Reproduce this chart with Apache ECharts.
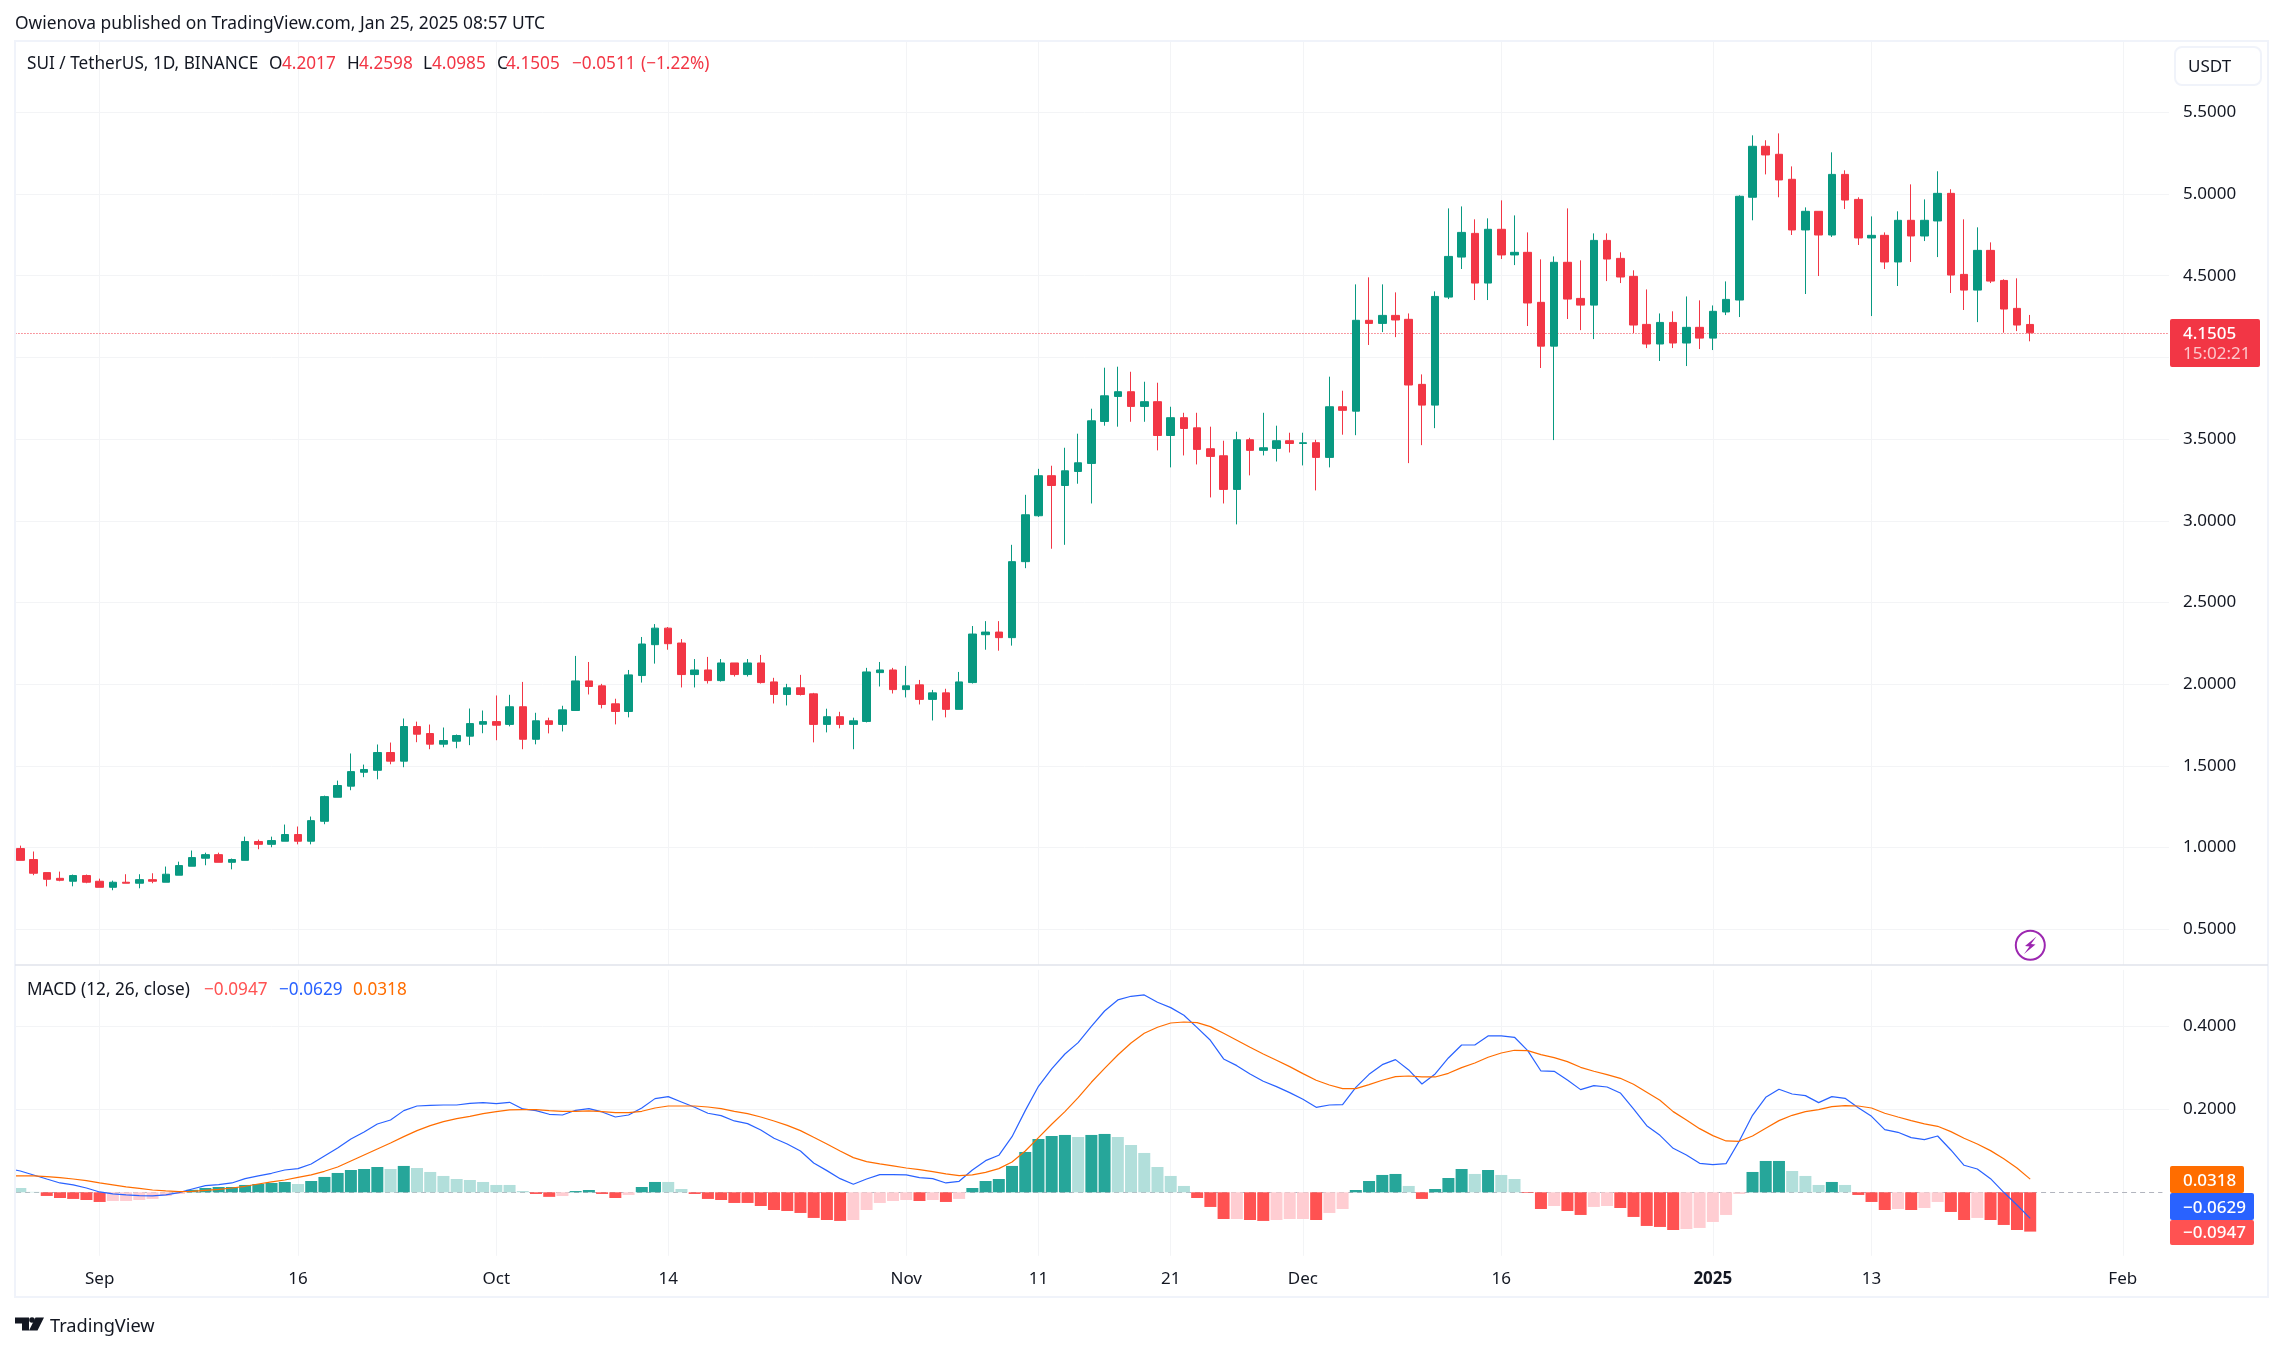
<!DOCTYPE html>
<html><head><meta charset="utf-8">
<style>html,body{margin:0;padding:0;background:#fff}#c{width:2283px;height:1351px}</style>
<script src="https://cdn.jsdelivr.net/npm/echarts@6/dist/echarts.min.js"></script>
</head><body><div id="c"></div>
<script>
const opens=[null,.994,.927,.847,.812,.794,.829,.794,.757,.788,.782,
.804,.788,.831,.886,.935,.957,.910,.922,1.037,1.020,
1.039,1.080,1.039,1.161,1.308,1.376,1.461,1.473,1.582,1.529,
1.741,1.698,1.633,1.651,1.682,1.755,1.771,1.754,1.862,1.663,
1.776,1.754,1.839,2.020,1.990,1.880,1.833,2.053,2.242,2.343,
2.252,2.059,2.087,2.022,2.130,2.059,2.130,2.014,1.937,1.978,
1.941,1.754,1.801,1.754,1.772,2.071,2.087,1.967,1.996,1.907,
1.947,1.846,2.010,2.303,2.319,2.285,2.75,3.031,3.276,3.216,
3.302,3.351,3.608,3.761,3.790,3.700,3.729,3.522,3.631,3.569,
3.441,3.398,3.192,3.496,3.431,3.443,3.490,3.473,3.478,3.388,
3.698,3.671,4.227,4.208,4.257,4.233,3.835,3.708,4.369,4.614,
4.759,4.455,4.784,4.627,4.643,4.337,4.069,4.582,4.361,4.320,
4.716,4.606,4.496,4.202,4.082,4.214,4.088,4.184,4.118,4.278,
4.351,4.980,5.292,5.243,5.090,4.780,4.894,4.749,5.120,4.967,
4.731,4.747,4.584,4.839,4.743,4.835,5.004,4.508,4.412,4.655,
4.471,4.300,4.2017];
const closes=[null,.922,.843,.806,.800,.829,.788,.757,.788,.782,.804,
.794,.837,.890,.939,.957,.910,.927,1.037,1.020,1.043,
1.080,1.039,1.165,1.312,1.380,1.465,1.478,1.582,1.529,1.741,
1.694,1.633,1.655,1.686,1.759,1.771,1.749,1.862,1.663,1.776,
1.754,1.843,2.020,1.986,1.876,1.833,2.057,2.246,2.343,2.248,
2.059,2.087,2.022,2.130,2.059,2.130,2.010,1.937,1.978,1.937,
1.754,1.801,1.754,1.776,2.075,2.087,1.967,1.990,1.907,1.947,
1.846,2.014,2.307,2.319,2.285,2.75,3.037,3.276,3.216,3.306,
3.355,3.612,3.765,3.790,3.700,3.729,3.522,3.631,3.565,3.437,
3.394,3.192,3.496,3.431,3.447,3.490,3.473,3.478,3.388,3.698,
3.676,4.227,4.208,4.257,4.229,3.831,3.708,4.373,4.618,4.765,
4.455,4.784,4.627,4.643,4.333,4.069,4.582,4.357,4.320,4.716,
4.602,4.492,4.198,4.082,4.214,4.088,4.184,4.118,4.282,4.355,
4.986,5.292,5.239,5.086,4.780,4.894,4.749,5.120,4.963,4.731,
4.747,4.584,4.839,4.743,4.839,5.004,4.504,4.412,4.655,4.467,
4.296,4.198,4.1505];
const lows=[null,.922,.831,.763,.794,.763,.782,.757,.739,.782,.751,
.782,.788,.831,.886,.892,.910,.867,.922,.990,1.002,
1.039,1.020,1.020,1.143,1.308,1.351,1.431,1.418,1.510,1.492,
1.645,1.602,1.614,1.608,1.627,1.700,1.657,1.742,1.602,1.632,
1.699,1.711,1.839,1.937,1.852,1.754,1.797,2.010,2.126,2.211,
1.980,1.980,2.004,2.016,2.047,2.047,2.004,1.882,1.870,1.931,
1.644,1.705,1.730,1.602,1.766,1.986,1.943,1.919,1.876,1.778,
1.797,1.846,2.004,2.211,2.205,2.236,2.71,3.024,2.829,2.853,
3.227,3.106,3.582,3.576,3.606,3.606,3.431,3.327,3.400,3.345,
3.143,3.106,2.978,3.278,3.400,3.363,3.418,3.339,3.186,3.327,
3.527,3.524,4.076,4.155,4.124,3.353,3.463,3.567,4.357,4.541,
4.351,4.351,4.602,4.565,4.192,3.935,3.494,4.235,4.167,4.112,
4.467,4.455,4.149,4.057,3.978,4.057,3.947,4.051,4.045,4.259,
4.247,4.839,5.120,4.980,4.749,4.388,4.498,4.737,4.908,4.688,
4.253,4.541,4.437,4.584,4.712,4.614,4.394,4.290,4.216,4.455,
4.151,4.161,4.0985];
const highs=[null,1.012,.976,.847,.853,.835,.835,.810,.798,.837,.837,
.843,.884,.914,.982,.969,.969,.933,1.067,1.049,1.067,
1.141,1.129,1.190,1.318,1.410,1.576,1.508,1.631,1.643,1.790,
1.771,1.753,1.735,1.692,1.851,1.839,1.931,1.935,2.014,1.825,
1.795,1.868,2.173,2.136,2.002,1.911,2.087,2.289,2.368,2.350,
2.276,2.154,2.167,2.154,2.130,2.154,2.179,2.039,2.002,2.057,
1.947,1.850,1.831,1.795,2.100,2.136,2.100,2.112,2.026,1.965,
1.972,2.075,2.356,2.386,2.386,2.853,3.159,3.318,3.337,3.447,
3.533,3.686,3.937,3.943,3.912,3.851,3.845,3.698,3.661,3.661,
3.576,3.490,3.545,3.508,3.661,3.582,3.539,3.539,3.496,3.882,
3.796,4.447,4.490,4.447,4.398,4.269,3.896,4.404,4.912,4.924,
4.845,4.851,4.961,4.869,4.765,4.600,4.618,4.912,4.594,4.759,
4.759,4.643,4.533,4.416,4.269,4.282,4.373,4.349,4.318,4.465,
4.992,5.359,5.329,5.371,5.169,4.918,4.894,5.255,5.145,4.980,
4.863,4.765,4.894,5.059,4.967,5.139,5.029,4.845,4.796,4.704,
4.478,4.484,4.2598];
const macdLine=[.0575,.0514,.0418,.032,.0225,.0177,.0104,.0008,-.004,-.0064,-.008,
-.0088,-.0064,-.0008,.008,.016,.0185,.0225,.033,.0394,.0458,
.0538,.057,.0683,.0875,.1068,.1285,.1454,.1647,.1743,.1968,
.208,.2096,.2104,.2104,.2145,.2161,.2137,.2169,.2008,.1968,
.188,.1863,.1976,.2016,.1936,.1815,.1863,.2032,.2257,.2305,
.2177,.2048,.1904,.1847,.1719,.1655,.1502,.1301,.1165,.0996,
.0707,.0522,.0329,.0193,.0321,.0426,.0426,.0418,.0353,.0329,
.0225,.0265,.0538,.0763,.0892,.1341,.1968,.2554,.2972,.3333,
.3606,.4,.4369,.4635,.4723,.4755,.4578,.445,.4265,.3968,
.3663,.3213,.3052,.2851,.2675,.2546,.2402,.2241,.2048,.2104,
.2112,.253,.2843,.3076,.3197,.2948,.261,.2851,.3237,.355,
.355,.3767,.3767,.3735,.3414,.2924,.2916,.2707,.2474,.257,
.2538,.2394,.2008,.1606,.1373,.106,.09,.0699,.0667,.0691,
.1237,.1855,.2289,.2482,.2369,.2329,.2161,.2305,.2265,.204,
.1831,.151,.1446,.1317,.1269,.1357,.102,.0651,.0562,.0329,
0,-.0305,-.0629];
const signalLine=[.0394,.0394,.0394,.0378,.0353,.0321,.0281,.0225,.0177,.0129,.0096,
.0056,.0032,.0016,.0024,.0048,.0072,.0104,.0145,.02,.0249,
.0297,.0361,.0418,.0506,.061,.0755,.09,.1044,.1189,.1341,
.1486,.1606,.1703,.1775,.1831,.1896,.1944,.1984,.1992,.1992,
.1968,.1952,.1952,.196,.1944,.192,.192,.1952,.2032,.208,
.208,.208,.2056,.2016,.1952,.1896,.1815,.1719,.1614,.1486,
.1325,.1165,.0996,.0835,.0739,.0683,.0635,.0586,.0546,.0498,
.0442,.0402,.0418,.0482,.057,.0731,.0996,.1317,.1639,.1944,
.2281,.2651,.2988,.3309,.3598,.3831,.3976,.408,.4104,.4088,
.3992,.3831,.3663,.3494,.3333,.3181,.3028,.2859,.2699,.2586,
.2498,.2498,.2594,.2699,.2787,.2803,.2779,.2779,.2867,.3004,
.3116,.3253,.3357,.3422,.3414,.3317,.3245,.3149,.3012,.2916,
.2835,.2747,.2602,.241,.2217,.1944,.1743,.1534,.1365,.1237,
.1229,.1357,.1542,.1727,.1855,.1944,.1992,.2064,.2088,.208,
.2032,.1904,.1815,.1727,.1647,.159,.1462,.1301,.1165,.1004,
.0811,.0586,.0318];
const histValues=[null,.0104,.001,-.0088,-.0137,-.016,-.0185,-.0233,-.021,-.021,-.0185,
-.016,-.009,-.004,.006,.0104,.0128,.0128,.0177,.02,.0225,
.0249,.02,.0273,.037,.0466,.0538,.0562,.061,.0562,.0635,
.0586,.049,.0394,.032,.0297,.0249,.0177,.0177,.003,-.004,
-.011,-.009,.003,.0056,-.004,-.0137,-.0064,.0128,.0249,.0249,
.008,-.004,-.016,-.0185,-.0257,-.0257,-.033,-.0426,-.045,-.0498,
-.0618,-.0667,-.069,-.0667,-.0426,-.0257,-.0209,-.0185,-.0209,-.0185,
-.0233,-.016,.0104,.0273,.0321,.0635,.0972,.1285,.1357,.1382,
.1333,.1382,.1406,.1333,.114,.0948,.061,.0394,.0153,-.0137,
-.0353,-.0643,-.0643,-.0667,-.069,-.0667,-.0643,-.0643,-.0667,-.0498,
-.0402,.0056,.0273,.0418,.0442,.0153,-.016,.008,.0345,.0562,
.0442,.0538,.0418,.0321,-.0016,-.0402,-.033,-.045,-.0546,-.0353,
-.033,-.0378,-.0594,-.0811,-.0835,-.0908,-.0884,-.0859,-.0715,-.0546,
-.004,.049,.0755,.0755,.0514,.0394,.0177,.0249,.0177,-.0064,
-.0233,-.0426,-.0402,-.0426,-.0378,-.0233,-.0474,-.0667,-.0618,-.0667,
-.0787,-.0908,-.0947];
// dates (Aug 26 = 0) of the bars TradingView paints in the pale shade
const histPale=[0,1,7,8,9,10,11,12,21,28,30,31,32,33,34,35,36,37,38,41,46,49,50,
63,64,65,66,67,69,71,80,83,84,85,86,87,88,92,95,96,97,99,100,105,110,112,113,116,119,120,
126,127,128,129,130,134,135,136,138,142,144,145,148];
const tickLabels={'2024-09-01':'Sep','2024-09-16':'16','2024-10-01':'Oct','2024-10-14':'14','2024-11-01':'Nov','2024-11-11':'11','2024-11-21':'21','2024-12-01':'Dec','2024-12-16':'16','2025-01-01':'2025','2025-01-13':'13','2025-02-01':'Feb'};
const lastPrice=4.1505;

// Aug 25 sits behind the left frame so the lines run in from off-chart, as in the reference
const categories=[];
for(let d=Date.UTC(2024,7,25),i=0;i<164;i++,d+=864e5)categories.push(new Date(d).toISOString().slice(0,10));
const tickDates=Object.keys(tickLabels);
const FONT='"Noto Sans"',INK='#131722',GRID='#f3f4f6',RED='#f23645',GREEN='#089981';
const candles=opens.map((o,i)=>o===null?'-':[o,closes[i],lows[i],highs[i]]);
const bars=histValues.map((v,i)=>{
  if(v===null)return null;
  const pale=histPale.includes(i-1);
  return {value:v,itemStyle:{color:v>=0?(pale?'#b2dfdb':'#26a69a'):(pale?'#ffcdd2':'#ff5252')}};
});
const gL=0.47,gW=2168.57;
function txt(text,x,y,fill,size,extra){return {type:'text',z:100,silent:true,style:Object.assign({text,x,y,fill,fontSize:size||16,fontFamily:FONT,verticalAlign:'middle',align:'left'},extra||{})};}
function box(x,y,w,h,fill,r){return {type:'rect',z:90,silent:true,shape:{x,y,width:w,height:h,r:r||0},style:{fill}};}
const LG=17.2, TAG=17;
const graphic=[
 {type:'rect',z:79,silent:true,shape:{x:0,y:0,width:14.5,height:1351},style:{fill:'#fff'}},
 {type:'rect',z:80,silent:true,shape:{x:15,y:41,width:2253,height:1256},style:{fill:'none',stroke:'#f0f3fa',lineWidth:2}},
 {type:'line',z:80,silent:true,shape:{x1:15,y1:965,x2:2268,y2:965},style:{stroke:'#e0e3eb',lineWidth:1.5}},
 txt('Owienova published on TradingView.com, Jan 25, 2025 08:57 UTC',15,24.5,INK,17.4),
 txt('SUI / TetherUS, 1D, BINANCE',27,64.5,INK,LG),
 txt('O',269,64.5,INK,LG),txt('4.2017',282,64.5,RED,LG),
 txt('H',347,64.5,INK,LG),txt('4.2598',359,64.5,RED,LG),
 txt('L',423,64.5,INK,LG),txt('4.0985',432,64.5,RED,LG),
 txt('C',497,64.5,INK,LG),txt('4.1505',506,64.5,RED,LG),
 txt('−0.0511',572,64.5,RED,LG),txt('(−1.22%)',641,64.5,RED,LG),
 txt('MACD (12, 26, close)',27,990.5,INK,LG),
 txt('−0.0947',204,990.5,'#ff5252',LG),txt('−0.0629',279,990.5,'#2962ff',LG),txt('0.0318',353,990.5,'#ff6d00',LG),
 {type:'rect',z:90,silent:true,shape:{x:2175,y:47,width:86,height:38,r:7},style:{fill:'#fff',stroke:'#f0f3fa',lineWidth:2}},
 txt('USDT',2188,67,INK,17),
 box(2170,319,90,48,RED,2),
 txt('4.1505',2183,334,'#fff',TAG,{fontWeight:500}),
 txt('15:02:21',2183,354,'rgba(255,255,255,.72)',TAG),
 box(2170,1166,74,27,'#ff6d00',2),txt('0.0318',2183,1181,'#fff',TAG,{fontWeight:500}),
 box(2170,1193,84,27,'#2962ff',2),txt('−0.0629',2183,1208,'#fff',TAG,{fontWeight:500}),
 box(2170,1220,84,25,'#ff5252',2),txt('−0.0947',2183,1233,'#fff',TAG,{fontWeight:500}),
 {type:'circle',z:90,silent:true,shape:{cx:2030.3,cy:945.3,r:14.5},style:{fill:'#fff',stroke:'#9c27b0',lineWidth:2}},
 {type:'polygon',z:91,silent:true,shape:{points:[[2036.5,936.5],[2025,946],[2029.5,946.5],[2024,954],[2035.5,944.5],[2031,944]]},style:{fill:'#9c27b0'}},
 {type:'polygon',z:91,silent:true,shape:{points:[[15,1317.5],[29,1317.5],[29,1330.5],[22,1330.5],[22,1323.5],[15,1323.5]]},style:{fill:INK}},
 {type:'circle',z:91,silent:true,shape:{cx:32,cy:1320,r:2.8},style:{fill:INK}},
 {type:'polygon',z:91,silent:true,shape:{points:[[35.5,1317.5],[44,1317.5],[37.5,1330.5],[29,1330.5]]},style:{fill:INK}},
 txt('TradingView',50,1326.5,INK,18.2)
];
const axisText={margin:14,color:INK,fontSize:17,fontFamily:FONT,padding:[5,0,0,0],showMinLabel:false,showMaxLabel:false};
const option={
 animation:false,backgroundColor:'#fff',graphic,
 grid:[{left:gL,width:gW,top:30.6,height:980.4},{left:gL,width:gW,top:943.3,height:332}],
 xAxis:[
  {type:'category',gridIndex:0,data:categories,show:false},
  {type:'category',gridIndex:1,data:categories,axisLine:{show:false},axisTick:{show:false},splitLine:{show:false},
   axisLabel:{interval:(i,v)=>!!tickLabels[v],verticalAlign:'middle',margin:3.5,color:INK,fontSize:17,fontFamily:FONT,
    formatter:v=>v==='2025-01-01'?'{b|2025}':(tickLabels[v]||''),rich:{b:{fontWeight:700,fontSize:17,fontFamily:FONT,color:INK}}}}
 ],
 yAxis:[
  {type:'value',gridIndex:0,position:'right',min:0,max:6,interval:.5,axisLine:{show:false},axisTick:{show:false},
   splitLine:{show:true,showMinLine:false,showMaxLine:false,lineStyle:{color:GRID,width:1}},
   axisLabel:Object.assign({},axisText,{formatter:v=>v.toFixed(4)})},
  {type:'value',gridIndex:1,position:'right',min:-.2,max:.6,interval:.2,axisLine:{show:false},axisTick:{show:false},
   splitLine:{show:true,showMinLine:false,showMaxLine:false,lineStyle:{color:['transparent',GRID,GRID]}},
   axisLabel:Object.assign({},axisText,{formatter:v=>Math.abs(v)<1e-9?'':v.toFixed(4)})}
 ],
 series:[
  {name:'gridP',type:'line',xAxisIndex:0,yAxisIndex:0,data:[],z:1,silent:true,
   markLine:{z:1,silent:true,symbol:'none',label:{show:false},animation:false,lineStyle:{color:GRID,width:1,type:'solid'},
    data:tickDates.map(d=>[{xAxis:d,yAxis:5.93},{xAxis:d,yAxis:.282}])}},
  {name:'gridM',type:'line',xAxisIndex:1,yAxisIndex:1,data:[],z:1,silent:true,
   markLine:{z:1,silent:true,symbol:'none',label:{show:false},animation:false,lineStyle:{color:GRID,width:1,type:'solid'},
    data:tickDates.map(d=>[{xAxis:d,yAxis:.536},{xAxis:d,yAxis:-.153}]).concat([[{xAxis:categories[0],yAxis:0,lineStyle:{color:'#b2b5be',type:[5,4]}},{xAxis:categories[163],yAxis:0}]])}},
  {name:'SUI / TetherUS',type:'candlestick',xAxisIndex:0,yAxisIndex:0,data:candles,barWidth:8,z:3,
   itemStyle:{color:GREEN,color0:RED,borderColor:GREEN,borderColor0:RED,borderWidth:1},
   markLine:{z:1,silent:true,symbol:'none',animation:false,label:{show:false},lineStyle:{color:RED,width:1,type:[1,2]},data:[{yAxis:lastPrice}]}},
  {name:'Histogram',type:'bar',xAxisIndex:1,yAxisIndex:1,data:bars,barWidth:12,z:3},
  {name:'MACD',type:'line',xAxisIndex:1,yAxisIndex:1,data:macdLine,showSymbol:false,symbol:'none',z:4,lineStyle:{color:'#2962ff',width:1.2}},
  {name:'Signal',type:'line',xAxisIndex:1,yAxisIndex:1,data:signalLine,showSymbol:false,symbol:'none',z:4,lineStyle:{color:'#ff6d00',width:1.2}}
 ]
};
echarts.init(document.getElementById('c'),null,{renderer:'canvas'}).setOption(option);
</script></body></html>
